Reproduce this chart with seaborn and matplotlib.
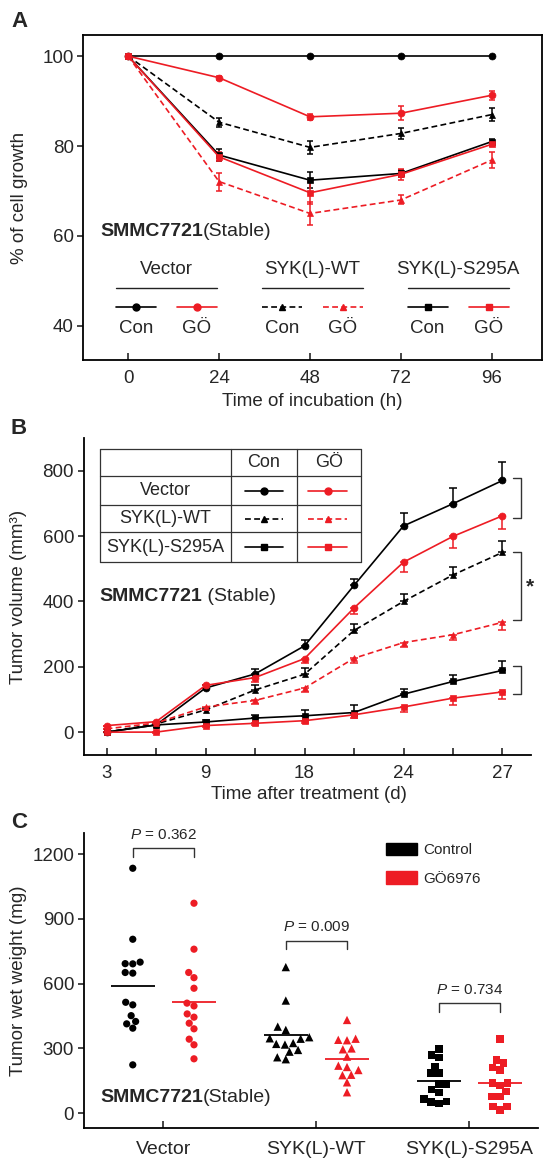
import numpy as np
import pandas as pd
import seaborn as sns
import matplotlib.pyplot as plt
from matplotlib.patches import Patch

RED = "#ed1c24"
BLACK = "#000000"
DASH = (0, (3.5, 2))

# Panel A: % of cell growth over time
hours = [0, 24, 48, 72, 96]
a_vec_con = [100, 100, 100, 100, 100]
a_vec_go = [100, 95.2, 86.5, 87.3, 91.3]
a_wt_con = [100, 85.3, 79.7, 82.8, 87.0]
a_wt_go = [100, 72.1, 65.0, 68.0, 76.9]
a_s295a_con = [100, 78.0, 72.4, 73.9, 81.0]
a_s295a_go = [100, 77.6, 69.6, 73.7, 80.4]
a_err_vec_con = [0, 0, 0, 0, 0]
a_err_vec_go = [0, 0.4, 0.6, 1.5, 1.0]
a_err_wt_con = [0, 1.0, 1.5, 1.2, 1.5]
a_err_wt_go = [0, 2.0, 2.5, 1.0, 1.7]
a_err_s295a_con = [0, 1.3, 1.8, 0.8, 0.5]
a_err_s295a_go = [0, 1.0, 2.5, 1.2, 0.5]

# Panel B: tumor volume, 9 measurements
b_day_labels = ["3", "", "9", "", "18", "", "24", "", "27"]
b_vec_con = [0, 22, 135, 178, 264, 449, 631, 699, 770]
b_vec_go = [20, 32, 143, 167, 225, 380, 520, 599, 662]
b_wt_con = [0, 25, 68, 129, 177, 311, 400, 481, 550]
b_wt_go = [10, 28, 77, 97, 135, 226, 274, 298, 336]
b_s295a_con = [0, 22, 31, 43, 50, 60, 116, 155, 189]
b_s295a_go = [0, 0, 20, 27, 35, 53, 77, 104, 123]
b_err_vec_con = [0, 5, 8, 15, 18, 20, 41, 48, 58]
b_err_vec_go = [0, 5, 8, 15, 15, 20, 30, 35, 41]
b_err_wt_con = [0, 3, 5, 15, 20, 20, 22, 25, 35]
b_err_wt_go = [0, 3, 8, 10, 12, 15, 15, 15, 25]
b_err_s295a_con = [0, 3, 5, 8, 18, 22, 15, 20, 28]
b_err_s295a_go = [0, 3, 5, 5, 8, 10, 15, 20, 22]

# Panel C: tumor wet weight per mouse
c_groups = ["Vector", "SYK(L)-WT", "SYK(L)-S295A"]
c_treats = ["Control", "GÖ6976"]
c_vec_con = [1135, 806, 700, 693, 692, 652, 649, 514, 502, 452, 425, 414, 394, 224]
c_vec_go = [973, 760, 652, 628, 579, 510, 497, 460, 445, 417, 391, 343, 317, 252]
c_wt_con = [677, 522, 401, 386, 352, 347, 345, 325, 321, 318, 293, 285, 259, 250]
c_wt_go = [432, 345, 340, 338, 300, 296, 262, 220, 214, 200, 178, 176, 143, 97]
c_s295a_con = [298, 270, 259, 216, 186, 186, 135, 135, 109, 97, 66, 55, 51, 44]
c_s295a_go = [343, 247, 232, 211, 201, 139, 139, 128, 100, 77, 77, 31, 31, 15]
c_pvalues = ["0.362", "0.009", "0.734"]
c_bracket_y = [1228, 800, 510]

sns.set_style("ticks")
plt.rcParams["font.family"] = ["Liberation Sans", "DejaVu Sans"]
plt.rcParams["mathtext.fontset"] = "custom"
plt.rcParams["mathtext.rm"] = "Liberation Sans"
plt.rcParams["mathtext.it"] = "Liberation Sans:italic"
plt.rcParams["axes.linewidth"] = 1.3
plt.rcParams["axes.edgecolor"] = "black"

W, H = 554, 1161
fig = plt.figure(figsize=(W / 100, H / 100), dpi=100)


def rect(x0, y0, x1, y1):
    return [x0 / W, 1 - y1 / H, (x1 - x0) / W, (y1 - y0) / H]


ax_a = fig.add_axes(rect(83.4, 35, 541.9, 360))
ax_b = fig.add_axes(rect(83.8, 438, 531.2, 755))
ax_c = fig.add_axes(rect(83.8, 833.3, 538.3, 1128.3))
over = fig.add_axes([0, 0, 1, 1])
over.set_xlim(0, W)
over.set_ylim(H, 0)
over.axis("off")


def style_ticks(ax):
    ax.tick_params(axis="x", direction="in", length=5, width=1.2, pad=7, labelsize=13.5)
    ax.tick_params(axis="y", direction="out", length=4, width=1.2, pad=3, labelsize=13.5)


def draw_series(ax, x, y, lo, hi, color, marker, dashed, ms, cap):
    sns.lineplot(x=x, y=y, ax=ax, color=color, marker=marker, markersize=ms,
                 markeredgecolor=color, markeredgewidth=0.5, errorbar=None,
                 linestyle=DASH if dashed else "-", linewidth=1.2, zorder=3)
    ax.errorbar(x, y, yerr=[lo, hi], fmt="none", ecolor=color, elinewidth=1.1,
                capsize=cap, capthick=1.1, zorder=2)


# ---------------- Panel A ----------------
a_series = [
    (a_vec_con, a_err_vec_con, BLACK, "o", False, 5),
    (a_wt_con, a_err_wt_con, BLACK, "^", True, 4.5),
    (a_s295a_con, a_err_s295a_con, BLACK, "s", False, 4.5),
    (a_wt_go, a_err_wt_go, RED, "^", True, 4.5),
    (a_vec_go, a_err_vec_go, RED, "o", False, 5),
    (a_s295a_go, a_err_s295a_go, RED, "s", False, 5),
]
for vals, err, col, mk, dashed, ms in a_series:
    draw_series(ax_a, hours, vals, err, err, col, mk, dashed, ms, 2.5)

ax_a.set_xlim(-11.8, 109.2)
ax_a.set_ylim(32.4, 104.7)
ax_a.set_xticks(hours)
ax_a.set_yticks([40, 60, 80, 100])
style_ticks(ax_a)
ax_a.set_xlabel("Time of incubation (h)", fontsize=13.5)
ax_a.xaxis.set_label_coords(0.5, -0.129)
ax_a.set_ylabel("% of cell growth", fontsize=13.5)
ax_a.yaxis.set_label_coords(-0.14, 0.5)
ax_a.xaxis.label.set_va("center")
ax_a.yaxis.label.set_va("center")

t = ax_a.text(0.036, 0.395, "SMMC7721", transform=ax_a.transAxes, fontsize=14,
              fontweight="bold", va="center", ha="left")
ax_a.annotate("(Stable)", xy=(1, 0.5), xycoords=t, va="center", ha="left", fontsize=14)

# legend of panel A (pixel layout on overlay)
a_legend = [("Vector", "o", False, 115.9), ("SYK(L)-WT", "^", True, 262.0),
            ("SYK(L)-S295A", "s", False, 407.5)]
for title, mk, dashed, x0 in a_legend:
    ls = DASH if dashed else "-"
    over.text(x0 + 50.5, 270, title, ha="center", va="center", fontsize=13.5)
    over.plot([x0, x0 + 101], [287.7, 287.7], color="#222222", lw=1.0)
    for (dx, col, lab) in [(0, BLACK, "Con"), (61, RED, "GÖ")]:
        over.plot([x0 + dx, x0 + dx + 40], [306.7, 306.7], color=col, lw=1.2, ls=ls)
        over.plot([x0 + dx + 20], [306.7], marker=mk, color=col,
                  ms=4.5 if mk != "o" else 5)
        over.text(x0 + dx + 20, 328.3, lab, ha="center", va="center", fontsize=13.5)

# ---------------- Panel B ----------------
bx = np.arange(len(b_day_labels))
zeros = [0] * len(bx)
b_series = [
    (b_vec_con, b_err_vec_con, BLACK, "o", False, True),
    (b_wt_con, b_err_wt_con, BLACK, "^", True, True),
    (b_s295a_con, b_err_s295a_con, BLACK, "s", False, True),
    (b_vec_go, b_err_vec_go, RED, "o", False, False),
    (b_wt_go, b_err_wt_go, RED, "^", True, False),
    (b_s295a_go, b_err_s295a_go, RED, "s", False, False),
]
for vals, err, col, mk, dashed, up in b_series:
    lo, hi = (zeros, err) if up else (err, zeros)
    draw_series(ax_b, bx, vals, lo, hi, col, mk, dashed, 5 if mk == "o" else 4.5, 3)

ax_b.set_xlim(-0.46, 8.58)
ax_b.set_ylim(-70, 900)
ax_b.set_xticks(bx)
ax_b.set_xticklabels(b_day_labels)
ax_b.set_yticks([0, 200, 400, 600, 800])
sns.despine(ax=ax_b)
style_ticks(ax_b)
ax_b.set_xlabel("Time after treatment (d)", fontsize=13.5)
ax_b.xaxis.set_label_coords(0.503, -0.126)
ax_b.set_ylabel("Tumor volume (mm³)", fontsize=13.5)
ax_b.yaxis.set_label_coords(-0.145, 0.5)
ax_b.xaxis.label.set_va("center")
ax_b.yaxis.label.set_va("center")

t = ax_b.text(0.035, 0.499, "SMMC7721", transform=ax_b.transAxes, fontsize=14,
              fontweight="bold", va="center", ha="left")
ax_b.annotate(" (Stable)", xy=(1, 0.5), xycoords=t, va="center", ha="left", fontsize=14)

# significance brackets at the right end
for top, bot in [(b_vec_con[-1] + 8, b_vec_go[-1] - 8),
                 (b_wt_con[-1], b_wt_go[-1] + 8),
                 (b_s295a_con[-1] + 12, b_s295a_go[-1] - 7)]:
    ax_b.plot([8.21, 8.37, 8.37, 8.21], [top, top, bot, bot], color="#333333",
              lw=1.0, clip_on=False)
ax_b.text(8.55, (b_wt_con[-1] + b_wt_go[-1]) / 2, "*", ha="center", va="center",
          fontsize=15, fontweight="bold")

# legend table of panel B
tx0, tx1, tc1, tc2 = 100, 360.7, 230.7, 297.3
rows_y = [449.3, 476, 505, 532.3, 562.3]
tcol = "#333333"
for yy in rows_y:
    over.plot([tx0, tx1], [yy, yy], color=tcol, lw=0.9)
for xx in [tx0, tc1, tc2, tx1]:
    over.plot([xx, xx], [rows_y[0], rows_y[-1]], color=tcol, lw=0.9)
over.text((tc1 + tc2) / 2, 462.7, "Con", ha="center", va="center", fontsize=13)
over.text((tc2 + tx1) / 2, 462.7, "GÖ", ha="center", va="center", fontsize=13)
for i, (name, mk, dashed) in enumerate([("Vector", "o", False), ("SYK(L)-WT", "^", True),
                                        ("SYK(L)-S295A", "s", False)]):
    yc = (rows_y[i + 1] + rows_y[i + 2]) / 2
    over.text((tx0 + tc1) / 2, yc, name, ha="center", va="center", fontsize=13)
    for xa, col in [(245, BLACK), (308.3, RED)]:
        over.plot([xa, xa + 38.3], [yc, yc], color=col, lw=1.2, ls=DASH if dashed else "-")
        over.plot([xa + 19.2], [yc], marker=mk, color=col, ms=4.5 if mk != "o" else 5)

# ---------------- Panel C ----------------
c_data = {
    ("Vector", "Control"): c_vec_con, ("Vector", "GÖ6976"): c_vec_go,
    ("SYK(L)-WT", "Control"): c_wt_con, ("SYK(L)-WT", "GÖ6976"): c_wt_go,
    ("SYK(L)-S295A", "Control"): c_s295a_con, ("SYK(L)-S295A", "GÖ6976"): c_s295a_go,
}
rows = []
for (g, tr), vals in c_data.items():
    for v in vals:
        rows.append({"group": g, "treat": tr, "weight": v})
df_c = pd.DataFrame(rows)

palette = {"Control": BLACK, "GÖ6976": RED}
# swarm laid out with a wider spacing, markers then drawn a bit smaller (looser swarm)
for g, mk, ms in zip(c_groups, ["o", "^", "s"], [5.2, 6.0, 5.4]):
    n_before = len(ax_c.collections)
    sns.swarmplot(data=df_c[df_c.group == g], x="group", y="weight", hue="treat",
                  order=c_groups, hue_order=c_treats, palette=palette, dodge=True,
                  marker=mk, size=7.6, linewidth=0, legend=False, ax=ax_c)
    for coll in ax_c.collections[n_before:]:
        coll.set_sizes([ms ** 2])

for i, g in enumerate(c_groups):
    for d, tr in zip([-0.2, 0.2], c_treats):
        m = np.mean(c_data[(g, tr)])
        ax_c.hlines(m, i + d - 0.145, i + d + 0.145, color=palette[tr], lw=1.3, zorder=4)
    yb = c_bracket_y[i]
    ax_c.plot([i - 0.2, i - 0.2, i + 0.2, i + 0.2], [yb - 40, yb, yb, yb - 40],
              color="#333333", lw=1.0)
    ax_c.text(i, yb + 30, r"$P$ = " + c_pvalues[i], ha="center", va="bottom", fontsize=11)

ax_c.set_xlim(-0.52, 2.45)
ax_c.set_ylim(-70, 1297)
ax_c.set_yticks([0, 300, 600, 900, 1200])
ax_c.set_xlabel("")
sns.despine(ax=ax_c)
style_ticks(ax_c)
ax_c.tick_params(axis="x", pad=9, labelsize=14)
ax_c.set_ylabel("Tumor wet weight (mg)", fontsize=13.5)
ax_c.yaxis.set_label_coords(-0.143, 0.5)
ax_c.yaxis.label.set_va("center")

t = ax_c.text(0.036, 0.103, "SMMC7721", transform=ax_c.transAxes, fontsize=14,
              fontweight="bold", va="center", ha="left")
ax_c.annotate("(Stable)", xy=(1, 0.5), xycoords=t, va="center", ha="left", fontsize=14)

handles = [Patch(facecolor=BLACK, edgecolor=BLACK), Patch(facecolor=RED, edgecolor=RED)]
ax_c.legend(handles, c_treats, loc="upper left", bbox_to_anchor=(0.665, 0.968),
            frameon=False, fontsize=11, handlelength=2.0, handleheight=0.9,
            handletextpad=0.45, labelspacing=0.9, borderaxespad=0, borderpad=0)

# panel letters
for letter, yy in [("A", 21.7), ("B", 429), ("C", 823)]:
    fig.text(11 / W, 1 - yy / H, letter, fontsize=16, fontweight="bold",
             ha="left", va="center")

fig.savefig("out.png", dpi=100)
